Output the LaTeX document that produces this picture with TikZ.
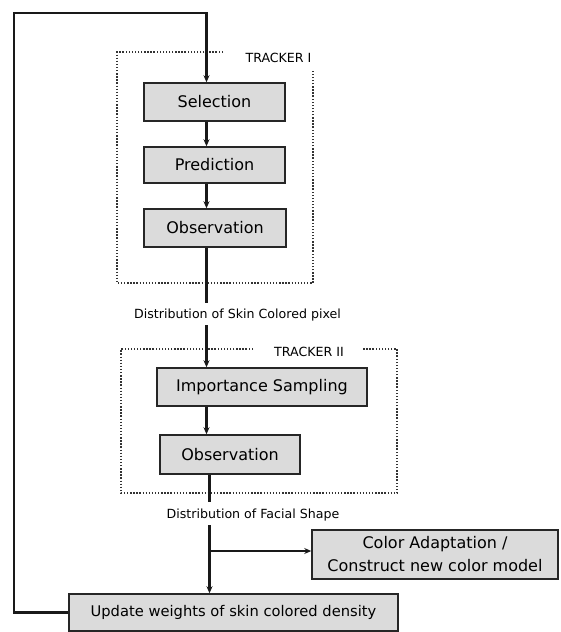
\documentclass[tikz,border=0pt]{standalone}
\usepackage{fontspec}
\setmainfont{DejaVu Sans}
\usetikzlibrary{arrows.meta,calc}
\begin{document}
\begin{tikzpicture}[x=1pt,y=-1pt,
  procbox/.style={draw=black!85,line width=1.5pt,fill=black!14,inner sep=0pt,
    font=\fontsize{16}{23}\selectfont,align=center},
  flow/.style={line width=2.6pt,black!90},
  arr/.style={flow,-{Stealth[length=7pt,width=6pt]}},
  dotbox/.style={line width=2pt,black!80,dash pattern=on 1.4pt off 1.7pt},
  smalltext/.style={font=\fontsize{12.6}{15}\selectfont,inner sep=0pt}]
\useasboundingbox (0,0) rectangle (560,632);
% nodes
\node[procbox,minimum width=141pt,minimum height=38pt] (sel) at (214.5,102) {Selection};
\node[procbox,minimum width=141pt,minimum height=36pt] (pred) at (214.5,165) {Prediction};
\node[procbox,minimum width=142pt,minimum height=38pt] (obsa) at (215,228) {Observation};
\node[procbox,minimum width=210pt,minimum height=38pt] (imp) at (262,387) {Importance Sampling};
\node[procbox,minimum width=140pt,minimum height=39pt] (obsb) at (230,454.5) {Observation};
\node[procbox,minimum width=246pt,minimum height=49pt] (col) at (435,554.5) {Color Adaptation /\\Construct new color model};
\node[procbox,minimum width=329pt,minimum height=37pt,font=\fontsize{14.7}{18}\selectfont] (upd) at (233.5,612.5) {Update weights of skin colored density};
\node[smalltext] (lskin) at (237.5,315) {Distribution of Skin Colored pixel};
\node[smalltext] (lface) at (253,515) {Distribution of Facial Shape};
\node[smalltext] (tra) at (278.5,58) {TRACKER I};
\node[smalltext] (trb) at (309,352) {TRACKER II};
% spine coordinates
\coordinate (sa) at (206.5,0);
\coordinate (sb) at (209.5,0);
\coordinate (endskin) at (206.5,303);
\coordinate (startskin) at (206.5,325);
\coordinate (endface) at (209.5,502);
\coordinate (startface) at (209.5,525);
\coordinate (branch) at (209.5,551);
\coordinate (loopbl) at (14,612.5);
\coordinate (looptl) at (14,13);
% tracker boxes
\draw[dotbox] (223,52) -- (117,52) -- (117,283) -- (313,283) -- (313,70);
\draw[dotbox] (253,349) -- (121,349) -- (121,493) -- (397,493) -- (397,349) -- (363,349);
% connectors
\draw[arr] (sel.south -| sa) -- (pred.north -| sa);
\draw[arr] (pred.south -| sa) -- (obsa.north -| sa);
\draw[flow] (obsa.south -| sa) -- (endskin);
\draw[arr] (startskin) -- (imp.north -| sa);
\draw[arr] (imp.south -| sa) -- (obsb.north -| sa);
\draw[flow] (obsb.south -| sb) -- (endface);
\draw[arr] (startface) -- (upd.north -| sb);
\draw[arr] (branch) -- (col.west |- branch);
\draw[arr] (upd.west) -- (loopbl) -- (looptl) -- (looptl -| sa) -- (sel.north -| sa);
\end{tikzpicture}
\end{document}
